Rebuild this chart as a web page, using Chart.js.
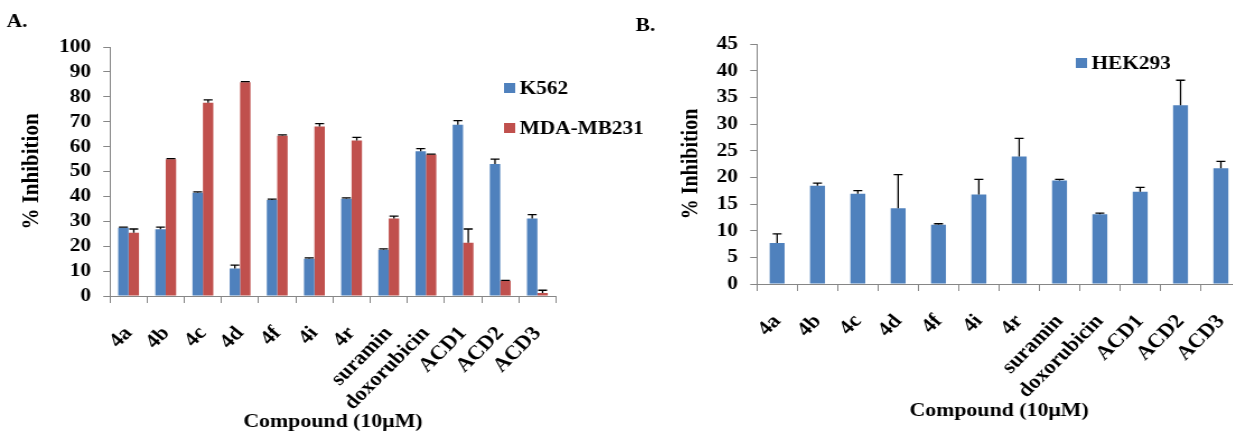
<!DOCTYPE html>
<html>
<head>
<meta charset="utf-8">
<script src="https://cdn.jsdelivr.net/npm/chart.js@4.4.1/dist/chart.umd.min.js"></script>
<style>
  html, body { margin: 0; padding: 0; background: #fff; overflow: hidden; width: 1233px; height: 432px; }
  /* the source figure is stretched sideways a little, so each panel is too */
  .panel { position: absolute; top: 0; width: 580px; height: 432px; transform: scaleX(1.12); transform-origin: 0 0; }
  #panelA { left: 0; }
  #panelB { left: 620px; }
</style>
</head>
<body>
<div class="panel" id="panelA"><canvas id="chartA" width="580" height="432"></canvas></div>
<div class="panel" id="panelB"><canvas id="chartB" width="580" height="432"></canvas></div>
<script>
// compounds tested at 10uM
const categories = ["4a", "4b", "4c", "4d", "4f", "4i", "4r", "suramin", "doxorubicin", "ACD1", "ACD2", "ACD3"];

// panel A - cancer cell lines, % inhibition and upper error
const k562 = [27.4, 26.8, 41.5, 11.0, 38.6, 15.0, 39.1, 18.6, 58.1, 68.8, 53.0, 31.1];
const k562Err = [0.3, 0.9, 0.3, 1.4, 0.3, 0.3, 0.3, 0.3, 1.1, 1.6, 2.0, 1.6];
const mda = [25.4, 54.9, 77.6, 85.8, 64.4, 68.1, 62.5, 31.1, 56.8, 21.4, 6.0, 1.2];
const mdaErr = [1.5, 0.3, 1.2, 0.3, 0.3, 1.1, 1.2, 1.0, 0.2, 5.5, 0.3, 1.1];

// panel B - HEK293
const hek = [7.7, 18.4, 16.9, 14.2, 11.1, 16.8, 23.9, 19.4, 13.1, 17.3, 33.5, 21.7];
const hekErr = [1.7, 0.5, 0.6, 6.3, 0.2, 2.8, 3.4, 0.2, 0.2, 0.8, 4.7, 1.3];

// y axis ticks
const yMaxA = 100, yStepA = 10;
const yMaxB = 45, yStepB = 5;

const BLUE = "#4F81BD";
const RED = "#C0504D";
const AXIS = "#868686";
const FONT = "'Liberation Serif', 'Times New Roman', serif";

Chart.defaults.color = "#000";
Chart.defaults.font.family = FONT;
Chart.defaults.font.weight = "bold";

// excel style "plus" error bars
const errorBars = {
  id: "errorBars",
  afterDatasetsDraw(chart) {
    const ctx = chart.ctx;
    const y = chart.scales.y;
    chart.data.datasets.forEach((ds, i) => {
      if (!ds.errors) return;
      chart.getDatasetMeta(i).data.forEach((bar, j) => {
        const top = y.getPixelForValue(ds.data[j] + ds.errors[j]);
        ctx.save();
        ctx.strokeStyle = "#000";
        ctx.lineWidth = 1.3;
        ctx.beginPath();
        ctx.moveTo(bar.x, bar.y);
        ctx.lineTo(bar.x, top);
        ctx.moveTo(bar.x - 4, top);
        ctx.lineTo(bar.x + 4, top);
        ctx.stroke();
        ctx.restore();
      });
    });
  }
};

// legend sitting inside the plot + the panel letter
const panelText = {
  id: "panelText",
  afterDraw(chart, args, opts) {
    const ctx = chart.ctx;
    ctx.save();
    ctx.font = "bold 19px " + FONT;
    ctx.textBaseline = "middle";
    chart.data.datasets.forEach((ds, i) => {
      const y = opts.y + i * opts.gap;
      ctx.fillStyle = ds.backgroundColor;
      ctx.fillRect(opts.x, y - 5, 10, 10);
      ctx.fillStyle = "#000";
      ctx.fillText(ds.label, opts.x + 14, y + 1.5);
    });
    ctx.fillText(opts.tag, opts.tagX, opts.tagY);
    ctx.restore();
  }
};

function axes(yMax, yStep, o) {
  return {
    x: {
      grid: { drawOnChartArea: false, color: AXIS, tickLength: 7, offset: true },
      border: { color: AXIS },
      ticks: { autoSkip: false, minRotation: 48, maxRotation: 48, padding: 19, font: { size: 20 } },
      title: { display: true, text: "Compound (10\u03bcM)", font: { size: 19.5, lineHeight: 1 }, padding: { top: 0, bottom: o.xTitlePad } },
      afterFit: (s) => { s.height = o.xHeight; }
    },
    y: {
      min: 0,
      max: yMax,
      grid: { drawOnChartArea: false, color: AXIS, tickLength: 6 },
      border: { color: AXIS },
      ticks: { stepSize: yStep, autoSkip: false, padding: 11, font: { size: 19 } },
      title: { display: true, text: "% Inhibition", font: { size: o.yTitleSize }, padding: { top: o.yTitlePad, bottom: 0 } },
      afterFit: (s) => { s.width = o.yWidth; }
    }
  };
}

new Chart(document.getElementById("chartA"), {
  type: "bar",
  data: {
    labels: categories,
    datasets: [
      { label: "K562", data: k562, errors: k562Err, backgroundColor: BLUE, categoryPercentage: 0.56, barPercentage: 1 },
      { label: "MDA-MB231", data: mda, errors: mdaErr, backgroundColor: RED, categoryPercentage: 0.56, barPercentage: 1 }
    ]
  },
  options: {
    responsive: false,
    animation: false,
    devicePixelRatio: 1,
    layout: { padding: { left: 0, top: 47, right: 83.6, bottom: 0 } },
    scales: axes(yMaxA, yStepA, { xHeight: 136, xTitlePad: 0, yWidth: 98.2, yTitleSize: 21, yTitlePad: 16 }),
    plugins: {
      legend: { display: false },
      tooltip: { enabled: false },
      panelText: { x: 450, y: 88, gap: 40, tag: "A.", tagX: 6, tagY: 22 }
    }
  },
  plugins: [errorBars, panelText]
});

new Chart(document.getElementById("chartB"), {
  type: "bar",
  data: {
    labels: categories,
    datasets: [
      { label: "HEK293", data: hek, errors: hekErr, backgroundColor: BLUE, categoryPercentage: 0.37, barPercentage: 1 }
    ]
  },
  options: {
    responsive: false,
    animation: false,
    devicePixelRatio: 1,
    layout: { padding: { left: 47.8, top: 44, right: 25.5, bottom: 0 } },
    scales: axes(yMaxB, yStepB, { xHeight: 148, xTitlePad: 11, yWidth: 74.5, yTitleSize: 20, yTitlePad: 4 }),
    plugins: {
      legend: { display: false },
      tooltip: { enabled: false },
      panelText: { x: 407, y: 63, gap: 40, tag: "B.", tagX: 14, tagY: 26 }
    }
  },
  plugins: [errorBars, panelText]
});
</script>
</body>
</html>
